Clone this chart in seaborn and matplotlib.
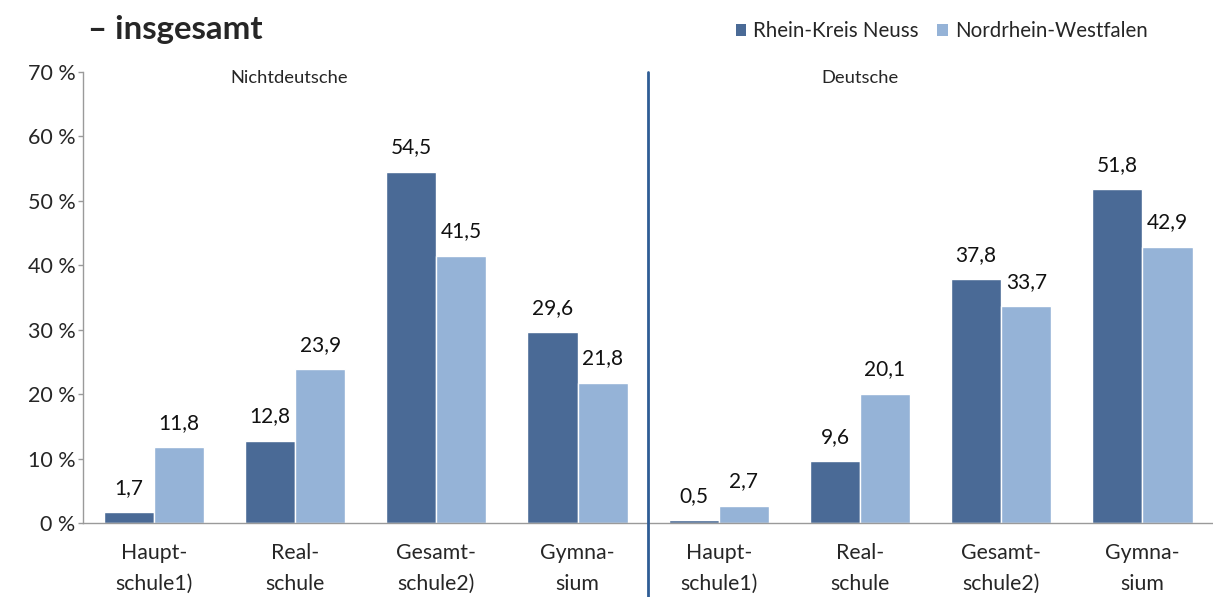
import matplotlib
matplotlib.use("Agg")
import matplotlib.pyplot as plt
from matplotlib.patches import Patch
import seaborn as sns
import pandas as pd

# ---- data ----
schools = ["Haupt-\nschule1)", "Real-\nschule", "Gesamt-\nschule2)", "Gymna-\nsium"]
groups = ["Nichtdeutsche", "Deutsche"]
regions = ["Rhein-Kreis Neuss", "Nordrhein-Westfalen"]
rkn_nichtdeutsche = [1.7, 12.8, 54.5, 29.6]
nrw_nichtdeutsche = [11.8, 23.9, 41.5, 21.8]
rkn_deutsche = [0.5, 9.6, 37.8, 51.8]
nrw_deutsche = [2.7, 20.1, 33.7, 42.9]
title_text = "– insgesamt"
y_ticks = [0, 10, 20, 30, 40, 50, 60, 70]

sns.set_theme(style="white")
plt.rcParams["font.family"] = ["Lato", "DejaVu Sans"]

dark = "#4A6A96"
light = "#95B3D7"
divider_color = "#2F5D95"
axis_gray = "#9A9A9A"

rows = []
cat_order = []
tick_labels = []
for g, rkn, nrw in [(groups[0], rkn_nichtdeutsche, nrw_nichtdeutsche),
                    (groups[1], rkn_deutsche, nrw_deutsche)]:
    for s, a, b in zip(schools, rkn, nrw):
        key = f"{g}|{s}"
        cat_order.append(key)
        tick_labels.append(s)
        rows.append({"cat": key, "region": regions[0], "value": a})
        rows.append({"cat": key, "region": regions[1], "value": b})
df = pd.DataFrame(rows)

fig = plt.figure(figsize=(12.13, 5.97), dpi=100)
ax_left = 83.3 / 1213
ax_bottom = 1 - 523.3 / 597
ax_top = 1 - 71.8 / 597
ax = fig.add_axes([ax_left, ax_bottom, 1 - ax_left, ax_top - ax_bottom])

sns.barplot(data=df, x="cat", y="value", hue="region", order=cat_order,
            hue_order=regions, palette=[dark, light], width=0.71,
            edgecolor="white", linewidth=1.0, legend=False, ax=ax,
            errorbar=None, saturation=1)

for cont in ax.containers:
    for rect in cont:
        h = rect.get_height()
        ax.annotate(f"{h:.1f}".replace(".", ","),
                    (rect.get_x() + rect.get_width() / 2, h),
                    xytext=(0, 17.5), textcoords="offset points",
                    ha="center", va="center", fontsize=15, color="#111111")

group_w_px = 142.4
ax.set_xlim(-0.5, -0.5 + (1213 - 83.3) / group_w_px)
ax.set_ylim(0, 70)
ax.set_yticks(y_ticks)
ax.set_yticklabels([f"{v} %" for v in y_ticks], fontsize=15.5)
ax.set_xticks(range(len(cat_order)))
ax.set_xticklabels(tick_labels, fontsize=15.3, linespacing=1.7)
ax.set_xticks([i + 0.5 for i in range(len(cat_order))], minor=True)
ax.tick_params(axis="x", which="major", length=0, pad=14)
ax.tick_params(axis="x", which="minor", length=7, color=axis_gray, width=1, direction="out")
ax.tick_params(axis="y", length=3.5, color=axis_gray, width=1, direction="out", pad=2, left=True)
ax.set_xlabel("")
ax.set_ylabel("")
for side in ["top", "right"]:
    ax.spines[side].set_visible(False)
for side in ["left", "bottom"]:
    ax.spines[side].set_color(axis_gray)
    ax.spines[side].set_linewidth(1)

# divider between groups
ax.plot([3.5, 3.5], [-0.25, 1.0], transform=ax.get_xaxis_transform(),
        color=divider_color, lw=2, clip_on=False, zorder=5)

ax.text(0.96, 69.0, groups[0], ha="center", va="center", fontsize=13.2)
ax.text(5.0, 69.0, groups[1], ha="center", va="center", fontsize=13.2)

fig.text(88 / 1213, 1 - 30 / 597, title_text, ha="left", va="center",
         fontsize=23.8, fontweight="bold")

handles = [Patch(facecolor=dark, edgecolor="none"), Patch(facecolor=light, edgecolor="none")]
fig.legend(handles, regions, loc="center left", bbox_to_anchor=(736 / 1213, 1 - 31 / 597),
           ncol=2, frameon=False, fontsize=14.8, handlelength=0.5, handleheight=0.5,
           handletextpad=0.35, columnspacing=0.9, borderaxespad=0, borderpad=0)

fig.savefig("out.png", dpi=100)
